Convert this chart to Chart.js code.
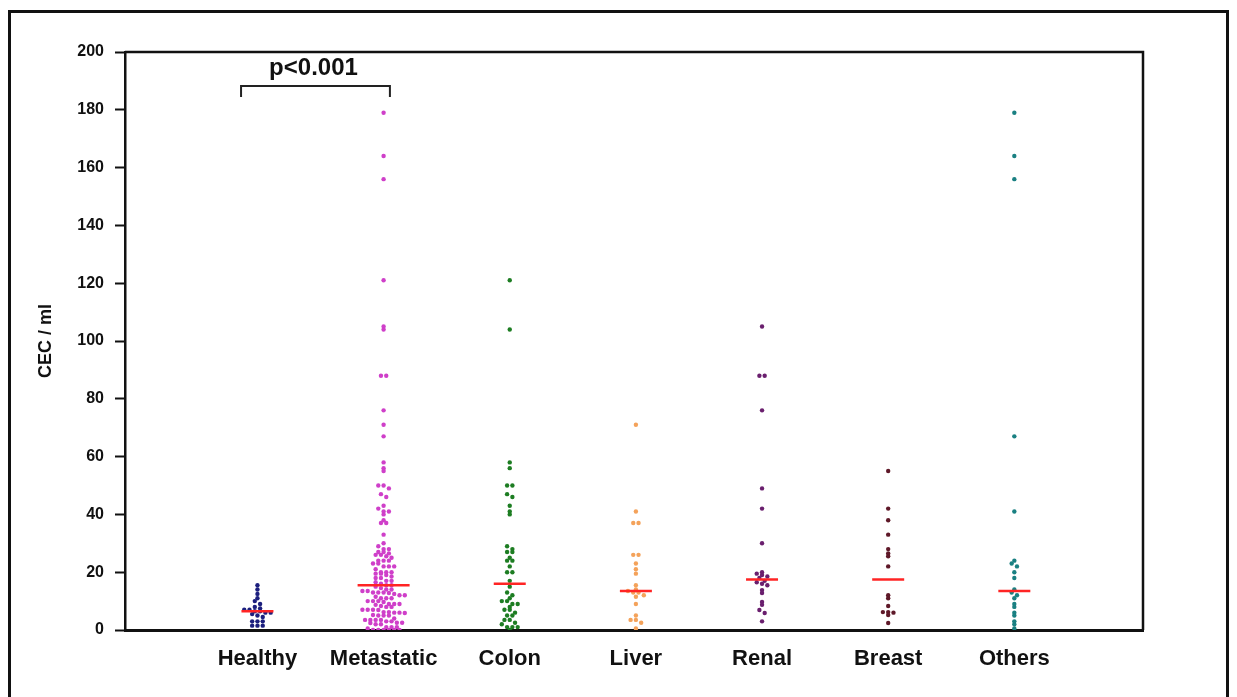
<!DOCTYPE html>
<html>
<head>
<meta charset="utf-8">
<script src="https://cdn.jsdelivr.net/npm/chart.js@4/dist/chart.umd.min.js"></script>
<style>
  html, body { margin: 0; padding: 0; background: #fff; overflow: hidden; }
  #wrap { position: relative; width: 1237px; height: 697px; }
  #frame { position: absolute; left: 8px; top: 10px; width: 1221px; height: 720px; border: 3px solid #111; box-sizing: border-box; pointer-events: none; }
  canvas { position: absolute; left: 0; top: 0; }
</style>
</head>
<body>
<div id="wrap">
  <canvas id="c" width="1237" height="697"></canvas>
  <div id="frame"></div>
</div>
<script>
// ---- data ----
const categories = ['Healthy', 'Metastatic', 'Colon', 'Liver', 'Renal', 'Breast', 'Others'];
const yTicks = [0, 20, 40, 60, 80, 100, 120, 140, 160, 180, 200];

const healthy = [15.5, 14, 12.5, 11, 10, 9, 8, 7.5, 7, 7, 6.5, 6.5, 6, 6, 5.5, 5, 4.5, 3, 3, 3, 1.5, 1.5, 1.5];
const metastatic = [179, 164, 156, 121, 105, 104, 88, 88, 76, 71,
  67, 58, 56, 55, 50, 50, 49, 47, 46, 43,
  42, 41, 41, 40, 38, 37, 37, 33, 30, 29,
  28, 28, 27, 27, 26.5, 26, 26, 25.5, 25, 24,
  24, 24, 23, 23, 22, 22, 22, 21, 20, 20,
  20, 19.5, 19.5, 19, 18.5, 18, 18, 17, 17, 16.5,
  16, 15.5, 15.5, 15, 14.5, 14, 14, 13.5, 13.5, 13,
  13, 13, 12.8, 12.5, 12, 12, 11.5, 11, 11,
  11, 10, 10, 10, 9.7, 9, 9, 9, 8.7, 8.3,
  8, 8, 7, 7, 7, 6.9, 6.2, 6.2, 6, 6,
  5.9, 5.2, 5, 5, 5, 4, 3.5, 3.5, 3.5, 3.5,
  3, 3, 2.5, 2.5, 2.4, 2, 2, 1, 1, 1,
  0.5, 0, 0, 0, 0, 0, 0];
const colon = [121, 104, 58, 56, 50, 50, 47, 46, 43, 41, 40, 29, 28, 27, 27, 25, 24, 24, 22, 20, 20, 17,
  15, 13, 12, 11, 10, 10, 9, 9, 8, 7, 7, 6, 5, 5, 3.5, 3.5, 2.5, 2, 1, 1, 1, 0];
const liver = [71, 41, 37, 37, 26, 26, 23, 21, 19.5, 15.5, 14, 13.5, 13, 13, 12, 11.5, 9, 5, 3.5, 3.5, 2.5, 0.5];
const renal = [105, 88, 88, 76, 49, 42, 30, 20, 19.5, 19, 18.5, 18, 17, 16.5, 16, 15.5, 13.8, 12.8, 9.7, 8.7, 6.9, 5.9, 3];
const breast = [55, 42, 38, 33, 28, 26.5, 25.5, 22, 12, 11, 8.3, 6.2, 6.2, 6, 5.2, 2.4];
const others = [179, 164, 156, 67, 41, 24, 23, 22, 20, 18, 14, 13, 12, 11, 9, 8, 6, 5, 3, 2, 0.5];
const medians = [6.5, 15.5, 16, 13.5, 17.5, 17.5, 13.5];

const groups = [healthy, metastatic, colon, liver, renal, breast, others];
const colors = ['#1c1f7e', '#cf3fc9', '#1d7d22', '#f4a25a', '#6a1f6e', '#5e1828', '#1a8082'];

// ---- styling / layout ----
const FONT = "'Liberation Sans', Arial, Helvetica, sans-serif";
const BIN = 1.6;      // dot-density bin height (data units)
const DX = 0.042;     // horizontal spacing between side-by-side dots (x units)

function swarm(values, center) {
  const counts = {};
  values.forEach(v => { const b = Math.round(v / BIN); counts[b] = (counts[b] || 0) + 1; });
  const seen = {};
  return values.map(v => {
    const b = Math.round(v / BIN);
    const k = seen[b] || 0; seen[b] = k + 1;
    const n = counts[b];
    return { x: center + (k - (n - 1) / 2) * DX, y: v };
  });
}

const datasets = [];
datasets.push({
  label: 'median',
  data: medians.map((m, i) => ({ x: i + 1, y: m })),
  pointStyle: 'line',
  pointRadius: medians.map((m, i) => i === 1 ? 26 : 16),
  pointBorderWidth: 2.5,
  pointBorderColor: '#ff2424',
  pointBackgroundColor: '#ff2424',
  showLine: false
});
groups.forEach((g, i) => {
  datasets.push({
    label: categories[i],
    data: swarm(g, i + 1),
    pointRadius: 2.2,
    pointBorderWidth: 0,
    pointBackgroundColor: colors[i],
    pointBorderColor: colors[i],
    showLine: false
  });
});

const framePlugin = {
  id: 'frame',
  afterDatasetsDraw(chart) {
    const { ctx, chartArea: a, scales } = chart;
    ctx.save();
    ctx.strokeStyle = '#111';
    ctx.lineWidth = 2.5;
    ctx.beginPath();
    ctx.moveTo(a.left, a.top);
    ctx.lineTo(a.right, a.top);
    ctx.lineTo(a.right, a.bottom);
    ctx.stroke();

    // significance bracket between Healthy and Metastatic
    const x = scales.x, y = scales.y;
    const x1 = x.getPixelForValue(0.87), x2 = x.getPixelForValue(2.05);
    const yb = y.getPixelForValue(188.2), yd = y.getPixelForValue(184.4);
    ctx.lineWidth = 2;
    ctx.strokeStyle = '#222';
    ctx.beginPath();
    ctx.moveTo(x1, yd); ctx.lineTo(x1, yb); ctx.lineTo(x2, yb); ctx.lineTo(x2, yd);
    ctx.stroke();
    ctx.fillStyle = '#111';
    ctx.font = "bold 24px " + FONT;
    ctx.textAlign = 'center';
    ctx.textBaseline = 'middle';
    ctx.fillText('p<0.001', (x1 + x2) / 2 - 2, y.getPixelForValue(194.3));
    ctx.restore();
  }
};

new Chart(document.getElementById('c'), {
  type: 'scatter',
  data: { datasets },
  plugins: [framePlugin],
  options: {
    responsive: false,
    animation: false,
    devicePixelRatio: 1,
    layout: { padding: { left: 0, right: 94, top: 52, bottom: 0 } },
    plugins: { legend: { display: false }, tooltip: { enabled: false } },
    scales: {
      x: {
        type: 'linear',
        min: -0.05, max: 8.02,
        afterBuildTicks(s) { s.ticks = categories.map((c, i) => ({ value: i + 1 })); },
        afterFit(s) { s.height = 67; },
        ticks: {
          autoSkip: false, maxRotation: 0, padding: 16,
          color: '#111',
          font: { family: FONT, size: 22, weight: 'bold' },
          callback: (v) => categories[v - 1] || ''
        },
        grid: { display: false, drawTicks: false },
        border: { display: true, color: '#111', width: 3 }
      },
      y: {
        min: 0, max: 200,
        afterBuildTicks(s) { s.ticks = yTicks.map(v => ({ value: v })); },
        afterFit(s) { s.width = 125; },
        ticks: {
          padding: 11,
          color: '#111',
          font: { family: FONT, size: 16, weight: 'bold' }
        },
        grid: { display: true, drawOnChartArea: false, drawTicks: true, tickLength: 10, tickColor: '#111', tickWidth: 2, color: '#111' },
        border: { display: true, color: '#111', width: 2.5 },
        title: {
          display: true, text: 'CEC / ml', color: '#111',
          font: { family: FONT, size: 18, weight: 'bold' },
          padding: { top: 35, bottom: 0 }
        }
      }
    }
  }
});
</script>
</body>
</html>
